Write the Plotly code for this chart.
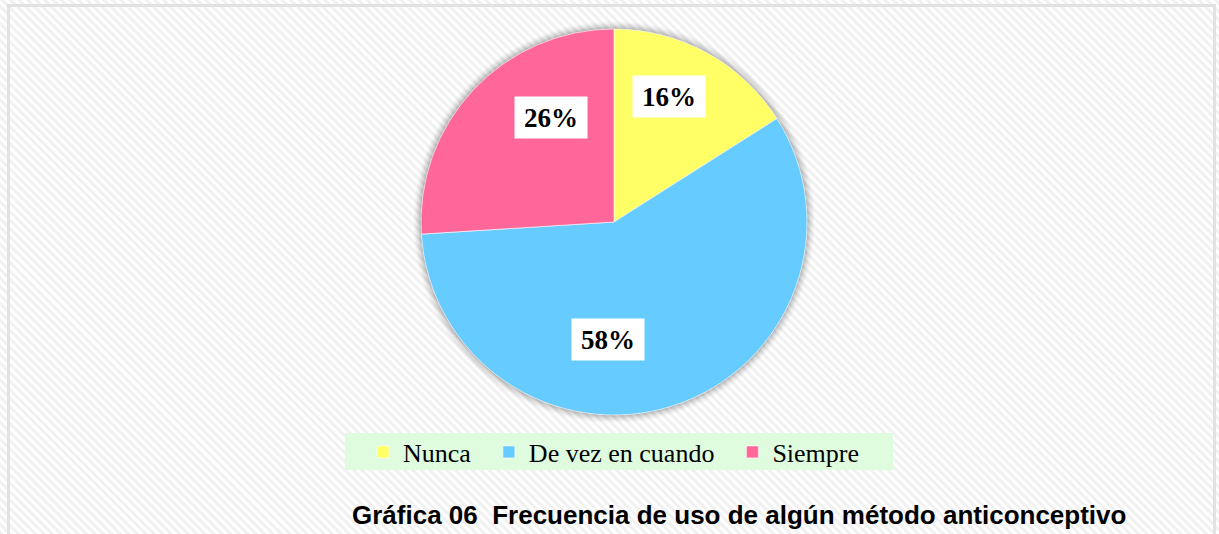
import base64
import plotly.graph_objects as go

# ---- data ----
categories = ["Nunca", "De vez en cuando", "Siempre"]
percentages = [16, 58, 26]
colors = ["#FFFF66", "#66CCFF", "#FF6699"]
title_text = "Gráfica 06\u00a0\u00a0Frecuencia de uso de algún método anticonceptivo"

# ---- layout constants (pixels) ----
W, H = 1219, 534
CX, CY, R = 614, 222, 193          # pie centre / radius in pixels (from top-left)
label_px = [(669, 96), (608, 339), (551, 118)]   # label box centres

def px(x):
    return x / W

def py(y):
    return 1 - y / H

# hatched background as an svg pattern
svg = f'''<svg xmlns="http://www.w3.org/2000/svg" width="{W}" height="{H}">
<defs><pattern id="p" width="6" height="6" patternUnits="userSpaceOnUse" patternTransform="rotate(-45)">
<rect width="3" height="6" fill="#f1f1f1"/></pattern></defs>
<rect width="{W}" height="{H}" fill="#ffffff"/>
<rect width="{W}" height="{H}" fill="url(#p)"/>
</svg>'''
bg_uri = "data:image/svg+xml;base64," + base64.b64encode(svg.encode()).decode()

# legend text gets a little trailing space so entries are spread like the reference
legend_labels = [c + "\u00a0\u00a0" for c in categories]

fig = go.Figure()
fig.add_trace(go.Pie(
    labels=legend_labels,
    values=percentages,
    customdata=categories,
    marker=dict(colors=colors, line=dict(color="rgba(255,255,255,0.6)", width=1)),
    sort=False,
    direction="clockwise",
    rotation=0,
    textinfo="none",
    hovertemplate="%{customdata}: %{value}%<extra></extra>",
    domain=dict(x=[px(CX - R), px(CX + R)], y=[py(CY + R), py(CY - R)]),
))

shapes = []
# frame
shapes.append(dict(type="rect", xref="paper", yref="paper",
                   x0=px(8.5), x1=px(1214.5), y0=py(560), y1=py(5.5),
                   line=dict(color="#e2e2e2", width=3), fillcolor="rgba(0,0,0,0)", layer="below"))
# soft shadow around the pie
for i, a in zip(range(8, 0, -1), [0.015, 0.02, 0.025, 0.03, 0.035, 0.04, 0.05, 0.06]):
    shapes.append(dict(type="circle", xref="paper", yref="paper",
                       xsizemode="pixel", ysizemode="pixel",
                       xanchor=px(CX), yanchor=py(CY),
                       x0=-R - i, x1=R + i, y0=-R - i, y1=R + i,
                       line=dict(width=0), fillcolor=f"rgba(0,0,0,{a})", layer="below"))
# legend box
shapes.append(dict(type="rect", xref="paper", yref="paper",
                   x0=px(345), x1=px(893), y0=py(470), y1=py(433),
                   line=dict(width=0), fillcolor="#DFFCDF", layer="below"))

annotations = []
for (lx, ly), v in zip(label_px, percentages):
    annotations.append(dict(x=px(lx), y=py(ly), xref="paper", yref="paper",
                            text=f"<b>{v}%</b>", showarrow=False,
                            font=dict(family="Liberation Serif, Times New Roman, serif", size=27, color="black"),
                            bgcolor="white", width=70, height=39, xanchor="center", yanchor="middle"))
annotations.append(dict(x=px(739), y=py(515), xref="paper", yref="paper",
                        text=f"<b>{title_text}</b>", showarrow=False,
                        font=dict(family="Liberation Sans Narrow, Arial Narrow, Liberation Sans, Arial", size=26, color="black"),
                        xanchor="center", yanchor="middle"))

fig.update_layout(
    width=W, height=H,
    margin=dict(l=0, r=0, t=0, b=0),
    paper_bgcolor="white",
    images=[dict(source=bg_uri, xref="paper", yref="paper", x=0, y=1, sizex=1, sizey=1,
                 xanchor="left", yanchor="top", sizing="stretch", layer="below")],
    shapes=shapes,
    annotations=annotations,
    showlegend=True,
    legend=dict(orientation="h", x=px(363), y=py(452), xanchor="left", yanchor="middle",
                bgcolor="rgba(0,0,0,0)",
                font=dict(family="Liberation Serif, Times New Roman, serif", size=26, color="black"),
                itemclick=False, itemdoubleclick=False),
)

fig.write_html("out.html", config={"displayModeBar": False},
               post_script="document.body.style.margin='0';document.body.style.overflow='hidden';")
